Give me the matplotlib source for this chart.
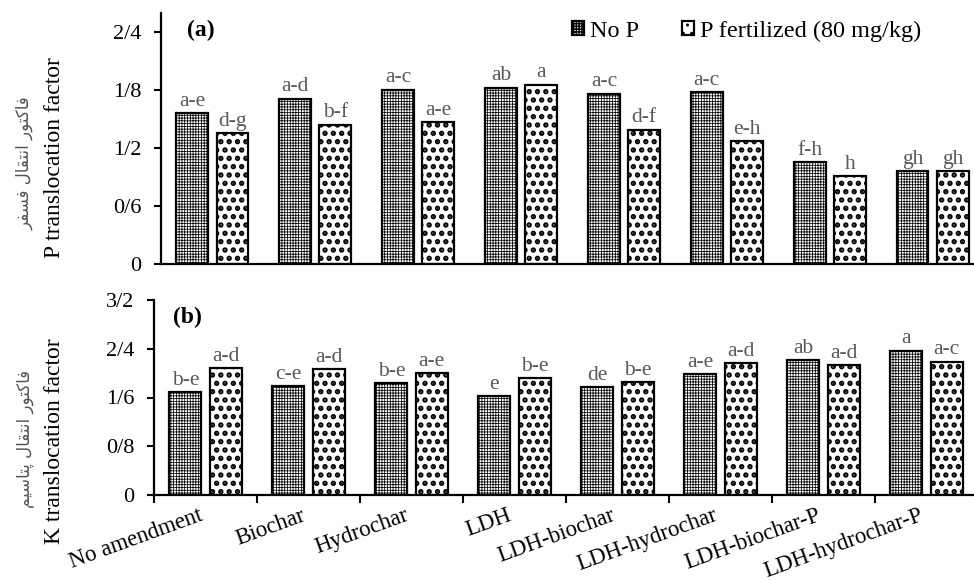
import matplotlib
matplotlib.use("Agg")
import matplotlib.pyplot as plt
import numpy as np

categories = ["No amendment", "Biochar", "Hydrochar", "LDH", "LDH-biochar",
              "LDH-hydrochar", "LDH-biochar-P", "LDH-hydrochar-P"]
series_names = ["No P", "P fertilized (80 mg/kg)"]

p_nop = [1.565, 1.714, 1.807, 1.828, 1.766, 1.779, 1.058, 0.965]
p_fert = [1.358, 1.445, 1.472, 1.859, 1.393, 1.272, 0.913, 0.965]
p_let_nop = ["a-e", "a-d", "a-c", "ab", "a-c", "a-c", "f-h", "gh"]
p_let_fert = ["d-g", "b-f", "a-e", "a", "d-f", "e-h", "h", "gh"]

k_nop = [1.69, 1.795, 1.838, 1.625, 1.779, 1.98, 2.22, 2.37]
k_fert = [2.09, 2.07, 2.008, 1.926, 1.861, 2.17, 2.128, 2.19]
k_let_nop = ["b-e", "c-e", "b-e", "e", "de", "a-e", "ab", "a"]
k_let_fert = ["a-d", "a-d", "a-e", "b-e", "b-e", "a-d", "a-d", "a-c"]

p_ticks = [0, 0.6, 1.2, 1.8, 2.4]
p_tick_labels = ["0", "0/6", "1/2", "1/8", "2/4"]
k_ticks = [0, 0.8, 1.6, 2.4, 3.2]
k_tick_labels = ["0", "0/8", "1/6", "2/4", "3/2"]

p_ylabel_en = "P translocation factor"
p_ylabel_fa = "فاکتور انتقال فسفر"
k_ylabel_en = "K translocation factor"
k_ylabel_fa = "فاکتور انتقال پتاسیم"

# --- minimal Persian shaping (matplotlib has no complex text layout) ---
FORMS = {
    'ا': ('\uFE8D', '\uFE8E', None, None),
    'ر': ('\uFEAD', '\uFEAE', None, None),
    'و': ('\uFEED', '\uFEEE', None, None),
    'ف': ('\uFED1', '\uFED2', '\uFED3', '\uFED4'),
    'ک': ('\uFB8E', '\uFB8F', '\uFB90', '\uFB91'),
    'ت': ('\uFE95', '\uFE96', '\uFE97', '\uFE98'),
    'ن': ('\uFEE5', '\uFEE6', '\uFEE7', '\uFEE8'),
    'ق': ('\uFED5', '\uFED6', '\uFED7', '\uFED8'),
    'ل': ('\uFEDD', '\uFEDE', '\uFEDF', '\uFEE0'),
    'س': ('\uFEB1', '\uFEB2', '\uFEB3', '\uFEB4'),
    'پ': ('\uFB56', '\uFB57', '\uFB58', '\uFB59'),
    'ی': ('\uFBFC', '\uFBFD', '\uFBFE', '\uFBFF'),
    'م': ('\uFEE1', '\uFEE2', '\uFEE3', '\uFEE4'),
}


def shape_fa(s):
    out = []
    for i, ch in enumerate(s):
        if ch not in FORMS:
            out.append(ch)
            continue
        iso, fin, ini, med = FORMS[ch]
        prev = s[i - 1] if i > 0 else ''
        nxt = s[i + 1] if i + 1 < len(s) else ''
        jp = prev in FORMS and FORMS[prev][2] is not None
        jn = ini is not None and nxt in FORMS
        if jp and jn:
            out.append(med)
        elif jp:
            out.append(fin)
        elif jn:
            out.append(ini)
        else:
            out.append(iso)
    return ''.join(reversed(out))


plt.rcParams['font.family'] = ['Liberation Serif', 'DejaVu Serif']

W, H = 974, 580
fig = plt.figure(figsize=(W / 100, H / 100), dpi=100)

ax_a = fig.add_axes([161 / W, (H - 264) / H, 823 / W, (264 - 13) / H])
ax_b = fig.add_axes([154 / W, (H - 495) / H, 824 / W, (495 - 300) / H])

x = np.arange(len(categories))
bw = 0.31
off = 0.195
LET_COLOR = '#595959'

HATCH_NOP, HLW_NOP = '++++++', 0.55
HATCH_P, HLW_P = '..', 2.6


def styled_bars(ax, xs, vals, hatch, hlw, label):
    with plt.rc_context({'hatch.linewidth': hlw}):
        bars = ax.bar(xs, vals, bw, facecolor='white', edgecolor='black',
                      linewidth=1.6, hatch=hatch, label=label)
    for r in bars:
        if hasattr(r, 'set_hatch_linewidth'):
            r.set_hatch_linewidth(hlw)
    return bars


for ax, v1, v2, l1, l2, ticks, tlabels, ymax in [
        (ax_a, p_nop, p_fert, p_let_nop, p_let_fert, p_ticks, p_tick_labels, 2.6),
        (ax_b, k_nop, k_fert, k_let_nop, k_let_fert, k_ticks, k_tick_labels, 3.2)]:
    b1 = styled_bars(ax, x - off, v1, HATCH_NOP, HLW_NOP, series_names[0])
    b2 = styled_bars(ax, x + off, v2, HATCH_P, HLW_P, series_names[1])
    for bars, labs in [(b1, l1), (b2, l2)]:
        for r, t in zip(bars, labs):
            ax.annotate(t, (r.get_x() + r.get_width() / 2, r.get_height()),
                        xytext=(0, 1.5), textcoords='offset points',
                        ha='center', va='bottom', fontsize=15.5, color=LET_COLOR)
    ax.set_xlim(-0.5, 7.5)
    ax.set_ylim(0, ymax)
    ax.set_yticks(ticks)
    ax.set_yticklabels(tlabels, fontsize=16)
    ax.tick_params(axis='y', direction='out', length=5, width=1.5, pad=9)
    for s in ['top', 'right']:
        ax.spines[s].set_visible(False)
    for s in ['left', 'bottom']:
        ax.spines[s].set_linewidth(1.6)

ax_a.set_xticks([])
ax_b.set_xticks(x)
ax_b.set_xticklabels(categories, rotation=20, ha='right', fontsize=16.5)
ax_b.tick_params(axis='x', which='major', length=0, pad=7)
ax_b.set_xticks(np.arange(-0.5, 8, 1), minor=True)
ax_b.tick_params(axis='x', which='minor', direction='out', length=6, width=1.5)

ax_a.text(0.031, 0.93, "(a)", transform=ax_a.transAxes, fontsize=17,
          fontweight='bold', va='center', ha='left')
ax_b.text(0.023, 0.91, "(b)", transform=ax_b.transAxes, fontsize=17,
          fontweight='bold', va='center', ha='left')

ax_a.legend(ncol=2, frameon=False, fontsize=17.5, loc='center left',
            bbox_to_anchor=(572 / W, 1 - 31 / H), bbox_transform=fig.transFigure,
            handlelength=0.5, handleheight=0.5, handletextpad=0.25,
            columnspacing=1.75, borderpad=0, borderaxespad=0)

fig.text(55 / W, 1 - 158 / H, p_ylabel_en, rotation=90, ha='center', va='center',
         fontsize=17)
fig.text(25 / W, 1 - 163 / H, shape_fa(p_ylabel_fa), rotation=90, ha='center',
         va='center', fontsize=12, color='#555555', family=['DejaVu Sans'])
fig.text(55 / W, 1 - 441 / H, k_ylabel_en, rotation=90, ha='center', va='center',
         fontsize=17)
fig.text(25 / W, 1 - 439 / H, shape_fa(k_ylabel_fa), rotation=90, ha='center',
         va='center', fontsize=12, color='#555555', family=['DejaVu Sans'])

fig.savefig("out.png", dpi=100)
